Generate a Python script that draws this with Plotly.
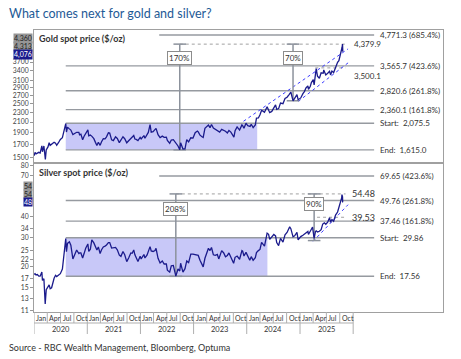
import math
import plotly.graph_objects as go

# ---------------- data ----------------
gold_dates = ["2020-01-02","2020-01-08","2020-01-15","2020-01-24","2020-02-03","2020-02-12","2020-02-24","2020-02-28","2020-03-09","2020-03-19","2020-03-25","2020-04-06","2020-04-14","2020-04-21","2020-05-01","2020-05-18","2020-05-28","2020-06-05","2020-06-17","2020-06-30","2020-07-14","2020-07-27","2020-08-06","2020-08-11","2020-08-18","2020-08-31","2020-09-10","2020-09-24","2020-10-07","2020-10-20","2020-11-04","2020-11-09","2020-11-18","2020-11-30","2020-12-10","2020-12-21",
"2021-01-05","2021-01-11","2021-01-22","2021-02-02","2021-02-15","2021-02-26","2021-03-08","2021-03-18","2021-03-30","2021-04-09","2021-04-21","2021-05-03","2021-05-13","2021-05-26","2021-06-04","2021-06-17","2021-06-29","2021-07-14","2021-07-26","2021-08-09","2021-08-20","2021-09-03","2021-09-15","2021-09-29","2021-10-12","2021-10-27","2021-11-05","2021-11-16","2021-11-24","2021-12-03","2021-12-15","2021-12-30",
"2022-01-06","2022-01-25","2022-02-01","2022-02-15","2022-02-24","2022-03-08","2022-03-16","2022-03-29","2022-04-11","2022-04-18","2022-05-02","2022-05-16","2022-05-31","2022-06-13","2022-06-28","2022-07-05","2022-07-21","2022-08-01","2022-08-15","2022-08-24","2022-09-02","2022-09-16","2022-09-28","2022-10-04","2022-10-20","2022-11-03","2022-11-15","2022-11-28","2022-12-13","2022-12-28",
"2023-01-12","2023-01-27","2023-02-02","2023-02-14","2023-02-28","2023-03-08","2023-03-20","2023-04-04","2023-04-13","2023-04-24","2023-05-04","2023-05-17","2023-05-30","2023-06-13","2023-06-29","2023-07-13","2023-07-27","2023-08-08","2023-08-21","2023-09-01","2023-09-14","2023-10-05","2023-10-13","2023-10-27","2023-11-13","2023-11-29","2023-12-04","2023-12-13","2023-12-27",
"2024-01-08","2024-01-24","2024-02-01","2024-02-14","2024-02-29","2024-03-08","2024-03-21","2024-04-01","2024-04-12","2024-04-22","2024-05-02","2024-05-20","2024-05-30","2024-06-07","2024-06-21","2024-07-05","2024-07-17","2024-07-25","2024-08-07","2024-08-20","2024-09-06","2024-09-20","2024-10-04","2024-10-18","2024-10-30","2024-11-14","2024-11-25","2024-12-11","2024-12-19",
"2025-01-06","2025-01-21","2025-01-31","2025-02-11","2025-02-24","2025-02-28","2025-03-12","2025-03-20","2025-04-02","2025-04-08","2025-04-17","2025-04-22","2025-05-01","2025-05-14","2025-05-26","2025-06-09","2025-06-13","2025-06-27","2025-07-10","2025-07-23","2025-07-30","2025-08-08","2025-08-20","2025-09-02","2025-09-16","2025-09-25","2025-10-01","2025-10-08","2025-10-14","2025-10-17","2025-10-20","2025-10-21","2025-10-22"]
gold_values = [1528,1575,1555,1570,1577,1566,1677,1585,1675,1475,1612,1660,1727,1685,1700,1735,1720,1685,1727,1780,1810,1942,2067,1910,2000,1968,1946,1867,1888,1906,1905,1862,1873,1777,1836,1880,
1950,1843,1856,1834,1795,1733,1683,1735,1685,1744,1794,1792,1826,1897,1891,1774,1761,1826,1797,1728,1781,1827,1794,1726,1760,1797,1818,1850,1788,1783,1763,1815,
1790,1848,1801,1855,1903,2050,1909,1917,1952,1978,1863,1811,1838,1818,1820,1764,1718,1772,1778,1750,1712,1675,1615,1725,1628,1630,1777,1741,1810,1805,
1898,1929,1913,1855,1827,1815,1979,2020,2040,1990,2050,1982,1960,1943,1908,1960,1945,1925,1894,1940,1910,1820,1933,2006,1946,2044,2030,1980,2077,
2027,2015,2055,1992,2044,2178,2181,2250,2345,2327,2303,2425,2343,2294,2321,2391,2470,2365,2383,2510,2497,2622,2653,2722,2787,2566,2626,2718,2593,
2636,2745,2798,2898,2952,2858,2934,3045,3133,2982,3327,3480,3238,3175,3343,3326,3432,3274,3325,3387,3275,3397,3348,3532,3690,3749,3864,4040,4143,4252,4380,4125,4076]

silver_dates = ["2020-01-02","2020-01-08","2020-01-15","2020-01-24","2020-02-03","2020-02-12","2020-02-24","2020-02-28","2020-03-09","2020-03-18","2020-03-25","2020-04-06","2020-04-14","2020-04-21","2020-05-01","2020-05-18","2020-05-28","2020-06-05","2020-06-17","2020-06-30","2020-07-14","2020-07-27","2020-08-06","2020-08-11","2020-08-18","2020-08-31","2020-09-10","2020-09-24","2020-10-07","2020-10-20","2020-11-04","2020-11-09","2020-11-18","2020-11-30","2020-12-10","2020-12-21",
"2021-01-05","2021-01-11","2021-01-22","2021-02-01","2021-02-15","2021-02-26","2021-03-08","2021-03-18","2021-03-30","2021-04-09","2021-04-21","2021-05-03","2021-05-13","2021-05-26","2021-06-04","2021-06-17","2021-06-29","2021-07-14","2021-07-26","2021-08-09","2021-08-20","2021-09-03","2021-09-15","2021-09-29","2021-10-12","2021-10-27","2021-11-05","2021-11-16","2021-11-24","2021-12-03","2021-12-15","2021-12-30",
"2022-01-06","2022-01-25","2022-02-01","2022-02-15","2022-02-24","2022-03-08","2022-03-16","2022-03-29","2022-04-11","2022-04-18","2022-05-02","2022-05-16","2022-05-31","2022-06-13","2022-06-28","2022-07-05","2022-07-21","2022-08-01","2022-08-15","2022-08-24","2022-09-01","2022-09-16","2022-09-28","2022-10-04","2022-10-20","2022-11-03","2022-11-15","2022-11-28","2022-12-13","2022-12-28",
"2023-01-12","2023-01-27","2023-02-02","2023-02-14","2023-02-28","2023-03-08","2023-03-20","2023-04-04","2023-04-13","2023-04-24","2023-05-04","2023-05-17","2023-05-30","2023-06-13","2023-06-23","2023-07-13","2023-07-27","2023-08-08","2023-08-21","2023-09-01","2023-09-14","2023-10-03","2023-10-13","2023-10-27","2023-11-13","2023-11-29","2023-12-04","2023-12-13","2023-12-27",
"2024-01-08","2024-01-22","2024-02-01","2024-02-14","2024-02-29","2024-03-08","2024-03-21","2024-04-01","2024-04-12","2024-04-22","2024-05-02","2024-05-20","2024-05-30","2024-06-07","2024-06-21","2024-07-05","2024-07-17","2024-07-25","2024-08-07","2024-08-20","2024-09-06","2024-09-20","2024-10-04","2024-10-22","2024-10-30","2024-11-14","2024-11-25","2024-12-11","2024-12-19",
"2025-01-06","2025-01-21","2025-01-31","2025-02-11","2025-02-24","2025-02-28","2025-03-12","2025-03-20","2025-03-28","2025-04-08","2025-04-17","2025-04-22","2025-05-01","2025-05-14","2025-05-26","2025-06-06","2025-06-17","2025-06-27","2025-07-10","2025-07-23","2025-07-30","2025-08-08","2025-08-20","2025-09-02","2025-09-16","2025-09-25","2025-10-01","2025-10-08","2025-10-14","2025-10-16","2025-10-20","2025-10-21","2025-10-22"]
silver_values = [18.0,18.2,17.9,18.0,17.6,17.6,18.6,16.6,17.0,12.0,14.6,15.2,15.6,14.8,15.0,17.1,17.8,17.5,17.8,18.2,19.4,24.5,29.5,24.6,27.6,28.2,26.9,22.3,23.9,25.2,24.0,24.2,24.2,22.6,24.0,25.8,
27.4,24.7,25.5,29.0,27.8,26.4,25.2,26.3,24.0,25.3,26.3,26.6,27.0,27.9,27.9,25.9,26.0,26.1,25.3,23.5,23.1,24.7,23.6,21.5,22.6,24.2,24.1,25.2,23.6,22.5,21.5,23.1,
22.3,23.7,22.6,23.5,24.7,26.4,24.9,24.7,25.0,25.8,22.5,21.1,21.7,20.8,20.8,19.1,18.6,20.3,20.4,19.1,17.6,19.4,18.9,21.0,18.6,19.5,21.7,21.2,23.8,23.8,
23.6,23.6,23.4,21.9,20.9,20.0,22.5,24.9,25.8,25.0,26.1,23.6,23.4,23.7,22.3,25.0,24.2,23.0,23.4,24.2,23.0,21.0,22.8,23.2,22.2,25.0,24.8,23.2,24.4,
23.2,21.9,23.0,21.9,22.7,24.3,25.0,25.4,28.0,27.2,26.6,31.8,31.3,29.2,30.4,31.2,30.6,27.9,26.8,29.6,28.1,31.1,32.1,34.7,33.8,30.2,30.6,32.1,29.0,
30.3,30.9,31.3,32.0,32.5,31.2,33.0,33.5,34.5,29.6,32.5,32.8,32.3,32.6,33.3,36.0,36.6,35.9,37.0,39.3,36.9,38.3,37.4,40.7,42.5,45.0,47.0,48.6,51.5,54.0,52.4,48.7,48.5]

gold_ticks = [1500, 1700, 1900, 2100, 2300, 2500, 2700, 2900, 3100, 3400, 3700]
silver_ticks = [11, 13, 15, 17, 20, 22, 25, 30, 34, 40, 70, 80]

gold_levels = [4771.3, 3565.7, 2820.6, 2360.1, 2075.5, 1615.0]
gold_level_labels = ["4,771.3 (685.4%)", "3,565.7 (423.6%)", "2,820.6 (261.8%)",
                     "2,360.1 (161.8%)", "Start:  2,075.5", "End:  1,615.0"]
silver_levels = [69.65, 49.76, 37.46, 29.86, 17.56]
silver_level_labels = ["69.65 (423.6%)", "49.76 (261.8%)", "37.46 (161.8%)",
                       "Start:  29.86", "End:  17.56"]

gold_peak, gold_apr_high = 4379.9, 3500.1
silver_peak, silver_jul_high = 54.48, 39.53

gold_moves = [("2022-09-28", 1615.0, "170%"), ("2024-11-14", 2566.0, "70%")]
silver_moves = [("2022-09-01", 17.56, "208%"), ("2025-04-08", 28.7, "90%")]

gold_tags = [("4,360", 4360), ("4,313", 4313), ("4,076", 4076)]
silver_tags = [("54", 54), ("54", 54), ("48", 48)]

gold_channel_up = (["2023-12-10", "2025-11-27"], [2115, 4188])
gold_channel_lo = (["2024-12-20", "2025-11-27"], [2551, 3670])
silver_channel = (["2025-04-01", "2025-11-27"], [28.4, 47.0])

years = [2020, 2021, 2022, 2023, 2024, 2025]
months = [("01", "Jan"), ("04", "Apr"), ("07", "Jul"), ("10", "Oct")]

# ---------------- style ----------------
NAVY = "rgb(27,27,140)"
GRAY = "rgb(150,154,160)"
BLUE = "rgb(60,60,255)"
TXT = "#333333"
FONT = "Lato"
PLOT_H = 282.0  # plot-area height in px (359 - 30 - 47)

fig = go.Figure()

def add_panel(xa, ya, dates, vals, levels, top_start, rect_end, peak, second, second_from,
              moves, channels):
    fig.add_trace(go.Scatter(x=["2020-08-06", rect_end, rect_end, "2020-08-06", "2020-08-06"],
                             y=[levels[-1], levels[-1], levels[-2], levels[-2], levels[-1]],
                             fill="toself", fillcolor="rgb(200,200,248)", mode="none",
                             xaxis=xa, yaxis=ya, hoverinfo="skip"))
    for i, v in enumerate(levels):
        x0 = top_start if i == 0 else "2020-08-06"
        fig.add_trace(go.Scatter(x=[x0, "2026-05-25"], y=[v, v], mode="lines",
                                 line=dict(color=GRAY, width=1.4), xaxis=xa, yaxis=ya,
                                 hoverinfo="skip"))
    fig.add_trace(go.Scatter(x=[moves[0][0], "2025-11-10"], y=[peak, peak], mode="lines",
                             line=dict(color="rgb(160,160,160)", width=1, dash="dot"),
                             xaxis=xa, yaxis=ya, hoverinfo="skip"))
    fig.add_trace(go.Scatter(x=[second_from, "2025-11-10"], y=[second, second], mode="lines",
                             line=dict(color="rgb(160,160,160)", width=1, dash="dot"),
                             xaxis=xa, yaxis=ya, hoverinfo="skip"))
    for cx, cy in channels:
        fig.add_trace(go.Scatter(x=cx, y=cy, mode="lines",
                                 line=dict(color=BLUE, width=1, dash="dot"),
                                 xaxis=xa, yaxis=ya, hoverinfo="skip"))
    for d, low, _ in moves:
        fig.add_trace(go.Scatter(x=[d, d], y=[low, peak], mode="lines+markers",
                                 line=dict(color="rgb(140,146,156)", width=1.5),
                                 marker=dict(symbol="line-ew", size=9,
                                             line=dict(color="rgb(140,146,156)", width=1.5)),
                                 xaxis=xa, yaxis=ya, hoverinfo="skip"))
    fig.add_trace(go.Scatter(x=dates, y=vals, mode="lines",
                             line=dict(color=NAVY, width=1.3), xaxis=xa, yaxis=ya))

add_panel("x", "y", gold_dates, gold_values, gold_levels, "2022-05-10", "2024-03-13",
          gold_peak, gold_apr_high, "2025-04-16", gold_moves, [gold_channel_up, gold_channel_lo])
add_panel("x2", "y2", silver_dates, silver_values, silver_levels, "2022-05-10", "2024-05-22",
          silver_peak, silver_jul_high, "2025-04-28", silver_moves, [silver_channel])

ann = []
def lab(x, y, text, xref, yref, size=8, **kw):
    d = dict(x=x, y=y, text=text, xref=xref, yref=yref, showarrow=False,
             font=dict(size=size, color=TXT, family=FONT))
    d.update(kw)
    ann.append(d)

for v, t in zip(gold_levels, gold_level_labels):
    lab("2026-06-20", math.log10(v), t, "x", "y", xanchor="left")
for v, t in zip(silver_levels, silver_level_labels):
    lab("2026-06-20", math.log10(v), t, "x2", "y2", xanchor="left")

lab("2025-12-22", math.log10(gold_peak), "4,379.9", "x", "y", xanchor="left")
lab("2025-12-22", math.log10(gold_apr_high), "3,500.1", "x", "y", xanchor="left", yshift=-8)
lab("2025-12-10", math.log10(silver_peak), "54.48", "x2", "y2", size=9, xanchor="left")
lab("2025-12-10", math.log10(silver_jul_high), "39.53", "x2", "y2", size=9, xanchor="left")

for (d, _, t), bv in zip(gold_moves, [3850, 3850]):
    lab(d, math.log10(bv), t, "x", "y", bgcolor="white", bordercolor="rgb(140,140,140)",
        borderwidth=1, borderpad=1)
for (d, _, t), bv in zip(silver_moves, [44.5, 47.6]):
    lab(d, math.log10(bv), t, "x2", "y2", bgcolor="white", bordercolor="rgb(140,140,140)",
        borderwidth=1, borderpad=1)

for (t, v), sh, dark in zip(gold_tags, [6, -1, -3], [False, False, True]):
    lab(0, math.log10(v), t, "paper", "y", xanchor="right", xshift=-1, yshift=sh,
        bgcolor=NAVY if dark else "rgb(150,150,150)", borderpad=0,
        font=dict(size=7, family=FONT, color="white" if dark else "#222"))
for (t, v), sh, dark in zip(silver_tags, [9, 1, 1], [False, False, True]):
    lab(0, math.log10(v), t, "paper", "y2", xanchor="right", xshift=-1, yshift=sh,
        bgcolor=NAVY if dark else "rgb(150,150,150)", borderpad=0,
        font=dict(size=7, family=FONT, color="white" if dark else "#222"))

lab(0, 1, "<b>Gold spot price ($/oz)</b>", "paper", "paper", size=9, xanchor="left",
    yanchor="top", xshift=3, yshift=-1)
lab(0, 0.525, "<b>Silver spot price ($/oz)</b>", "paper", "paper", size=9, xanchor="left",
    yanchor="top", xshift=3, yshift=-1)

lab(0, 1, "What comes next for gold and silver?", "paper", "paper",
    xanchor="left", yanchor="middle", xshift=-27, yshift=17,
    font=dict(size=12.5, family=FONT, color="rgb(30,90,150)"))
lab(0, 0, "Source - RBC Wealth Management, Bloomberg, Optuma", "paper", "paper",
    xanchor="left", yanchor="middle", xshift=-27, yshift=-35,
    font=dict(size=9, family=FONT, color=TXT))

shapes = []
SEP = "rgb(175,175,175)"
for y in years:
    for m, name in months:
        d = f"{y}-{m}-01"
        lab(d, 0, name, "x2", "paper", size=7, xanchor="left", yanchor="middle", yshift=-6)
        shapes.append(dict(type="line", xref="x2", yref="paper", x0=d, x1=d, y0=0,
                           y1=-11 / PLOT_H if m != "01" else -22 / PLOT_H,
                           line=dict(color=SEP, width=1)))
    lab(f"{y}-07-01", 0, str(y), "x2", "paper", size=7.5, yanchor="middle", yshift=-17)
shapes.append(dict(type="line", xref="x2", yref="paper", x0="2026-01-01", x1="2026-01-01",
                   y0=0, y1=-22 / PLOT_H, line=dict(color=SEP, width=1)))
shapes.append(dict(type="line", xref="x2", yref="paper", x0="2020-01-01", x1="2026-01-01",
                   y0=-11 / PLOT_H, y1=-11 / PLOT_H, line=dict(color=SEP, width=1)))

XR = ["2020-01-01", "2027-09-10"]
axis_common = dict(showline=True, mirror=True, linecolor="rgb(160,160,160)", linewidth=1,
                   showgrid=False, zeroline=False)
fig.update_layout(
    width=461, height=359,
    margin=dict(l=34, r=18, t=30, b=47),
    paper_bgcolor="white", plot_bgcolor="white",
    showlegend=False,
    font=dict(family=FONT, color=TXT),
    xaxis=dict(domain=[0, 1], anchor="y", type="date", range=XR, showticklabels=False,
               ticks="", **axis_common),
    xaxis2=dict(domain=[0, 1], anchor="y2", type="date", range=XR, showticklabels=False,
                ticks="", matches="x", **axis_common),
    yaxis=dict(domain=[0.532, 1], anchor="x", type="log",
               range=[math.log10(1440), math.log10(5005)],
               tickvals=gold_ticks, ticktext=[str(t) for t in gold_ticks],
               ticks="outside", ticklen=3, tickcolor="rgb(150,150,150)",
               tickfont=dict(size=6.8, color="#444"), automargin=False, **axis_common),
    yaxis2=dict(domain=[0, 0.525], anchor="x2", type="log",
                range=[1.0316, 1.915],
                tickvals=silver_ticks, ticktext=[str(t) for t in silver_ticks],
                ticks="outside", ticklen=3, tickcolor="rgb(150,150,150)",
                tickfont=dict(size=6.8, color="#444"), automargin=False, **axis_common),
    annotations=ann,
    shapes=shapes,
)

fig.write_html("out.html", config={"displayModeBar": False},
               post_script="document.body.style.margin='0';")
